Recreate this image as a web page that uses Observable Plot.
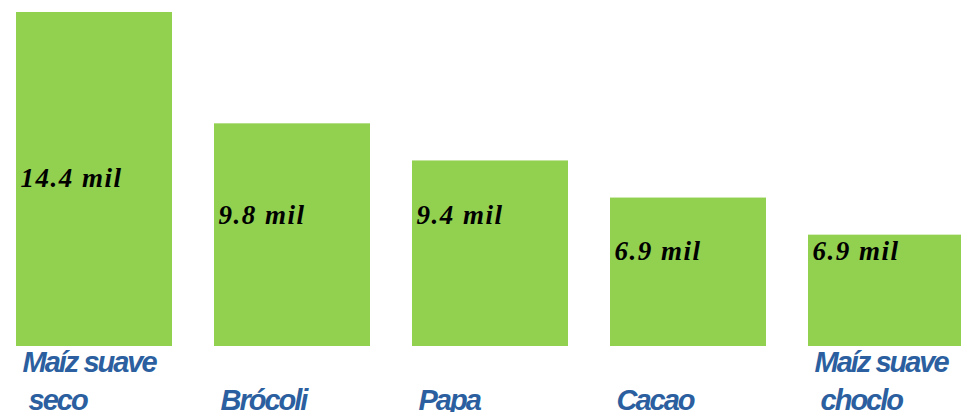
<!DOCTYPE html>
<html><head><meta charset="utf-8">
<script src="https://cdn.jsdelivr.net/npm/d3@7"></script>
<script src="https://cdn.jsdelivr.net/npm/@observablehq/plot@0.6"></script>
<style>html,body{margin:0;padding:0;background:#fff;overflow:hidden}</style>
</head><body><div id="chart"></div>
<script>
const categorias = ["Maíz suave\n\u00a0seco", "Brócoli", "Papa", "Cacao", "Maíz suave\n\u00a0choclo"];
const valoresMil = [14.4, 9.8, 9.4, 6.9, 6.9];
const alturaBarra = [14.4, 9.6, 8.0, 6.4, 4.8];
const alturaEtiqueta = [6.86, 5.3, 5.3, 3.71, 3.71];
const etiquetas = valoresMil.map(v => `${v.toFixed(1)} mil`);

const datos = categorias.map((c, i) => ({c, h: alturaBarra[i], ly: alturaEtiqueta[i], t: etiquetas[i]}));

const chart = Plot.plot({
  width: 961,
  height: 412,
  margin: 0,
  style: {background: "white"},
  x: {type: "band", domain: categorias, range: [-26, 1007], padding: 0.212, axis: null},
  y: {domain: [0, 14.4], range: [346, 12], axis: null},
  marks: [
    Plot.barY(datos, {x: "c", y: "h", fill: "#92D050"}),
    Plot.text(datos, {x: "c", y: "ly", text: "t", textAnchor: "start", lineAnchor: "bottom", dx: -74,
      fontFamily: "Liberation Serif", fontWeight: "bold", fontStyle: "italic", fontSize: 27, fill: "#000"}),
    Plot.text(datos, {x: "c", frameAnchor: "bottom", text: "c", textAnchor: "start", lineAnchor: "bottom",
      lineHeight: 1.3, dx: -72, dy: -3, fontFamily: "Liberation Sans", fontSize: 29, fontWeight: "bold",
      fontStyle: "italic", fill: "#2B5F9F"})
  ]
});
document.getElementById("chart").appendChild(chart);
const g = d3.select(chart).selectAll('g[aria-label="text"]');
g.filter((d, i) => i === 0).style("letter-spacing", "1.5px");
g.filter((d, i) => i === 1).style("letter-spacing", "-2px");
</script>
</body></html>
